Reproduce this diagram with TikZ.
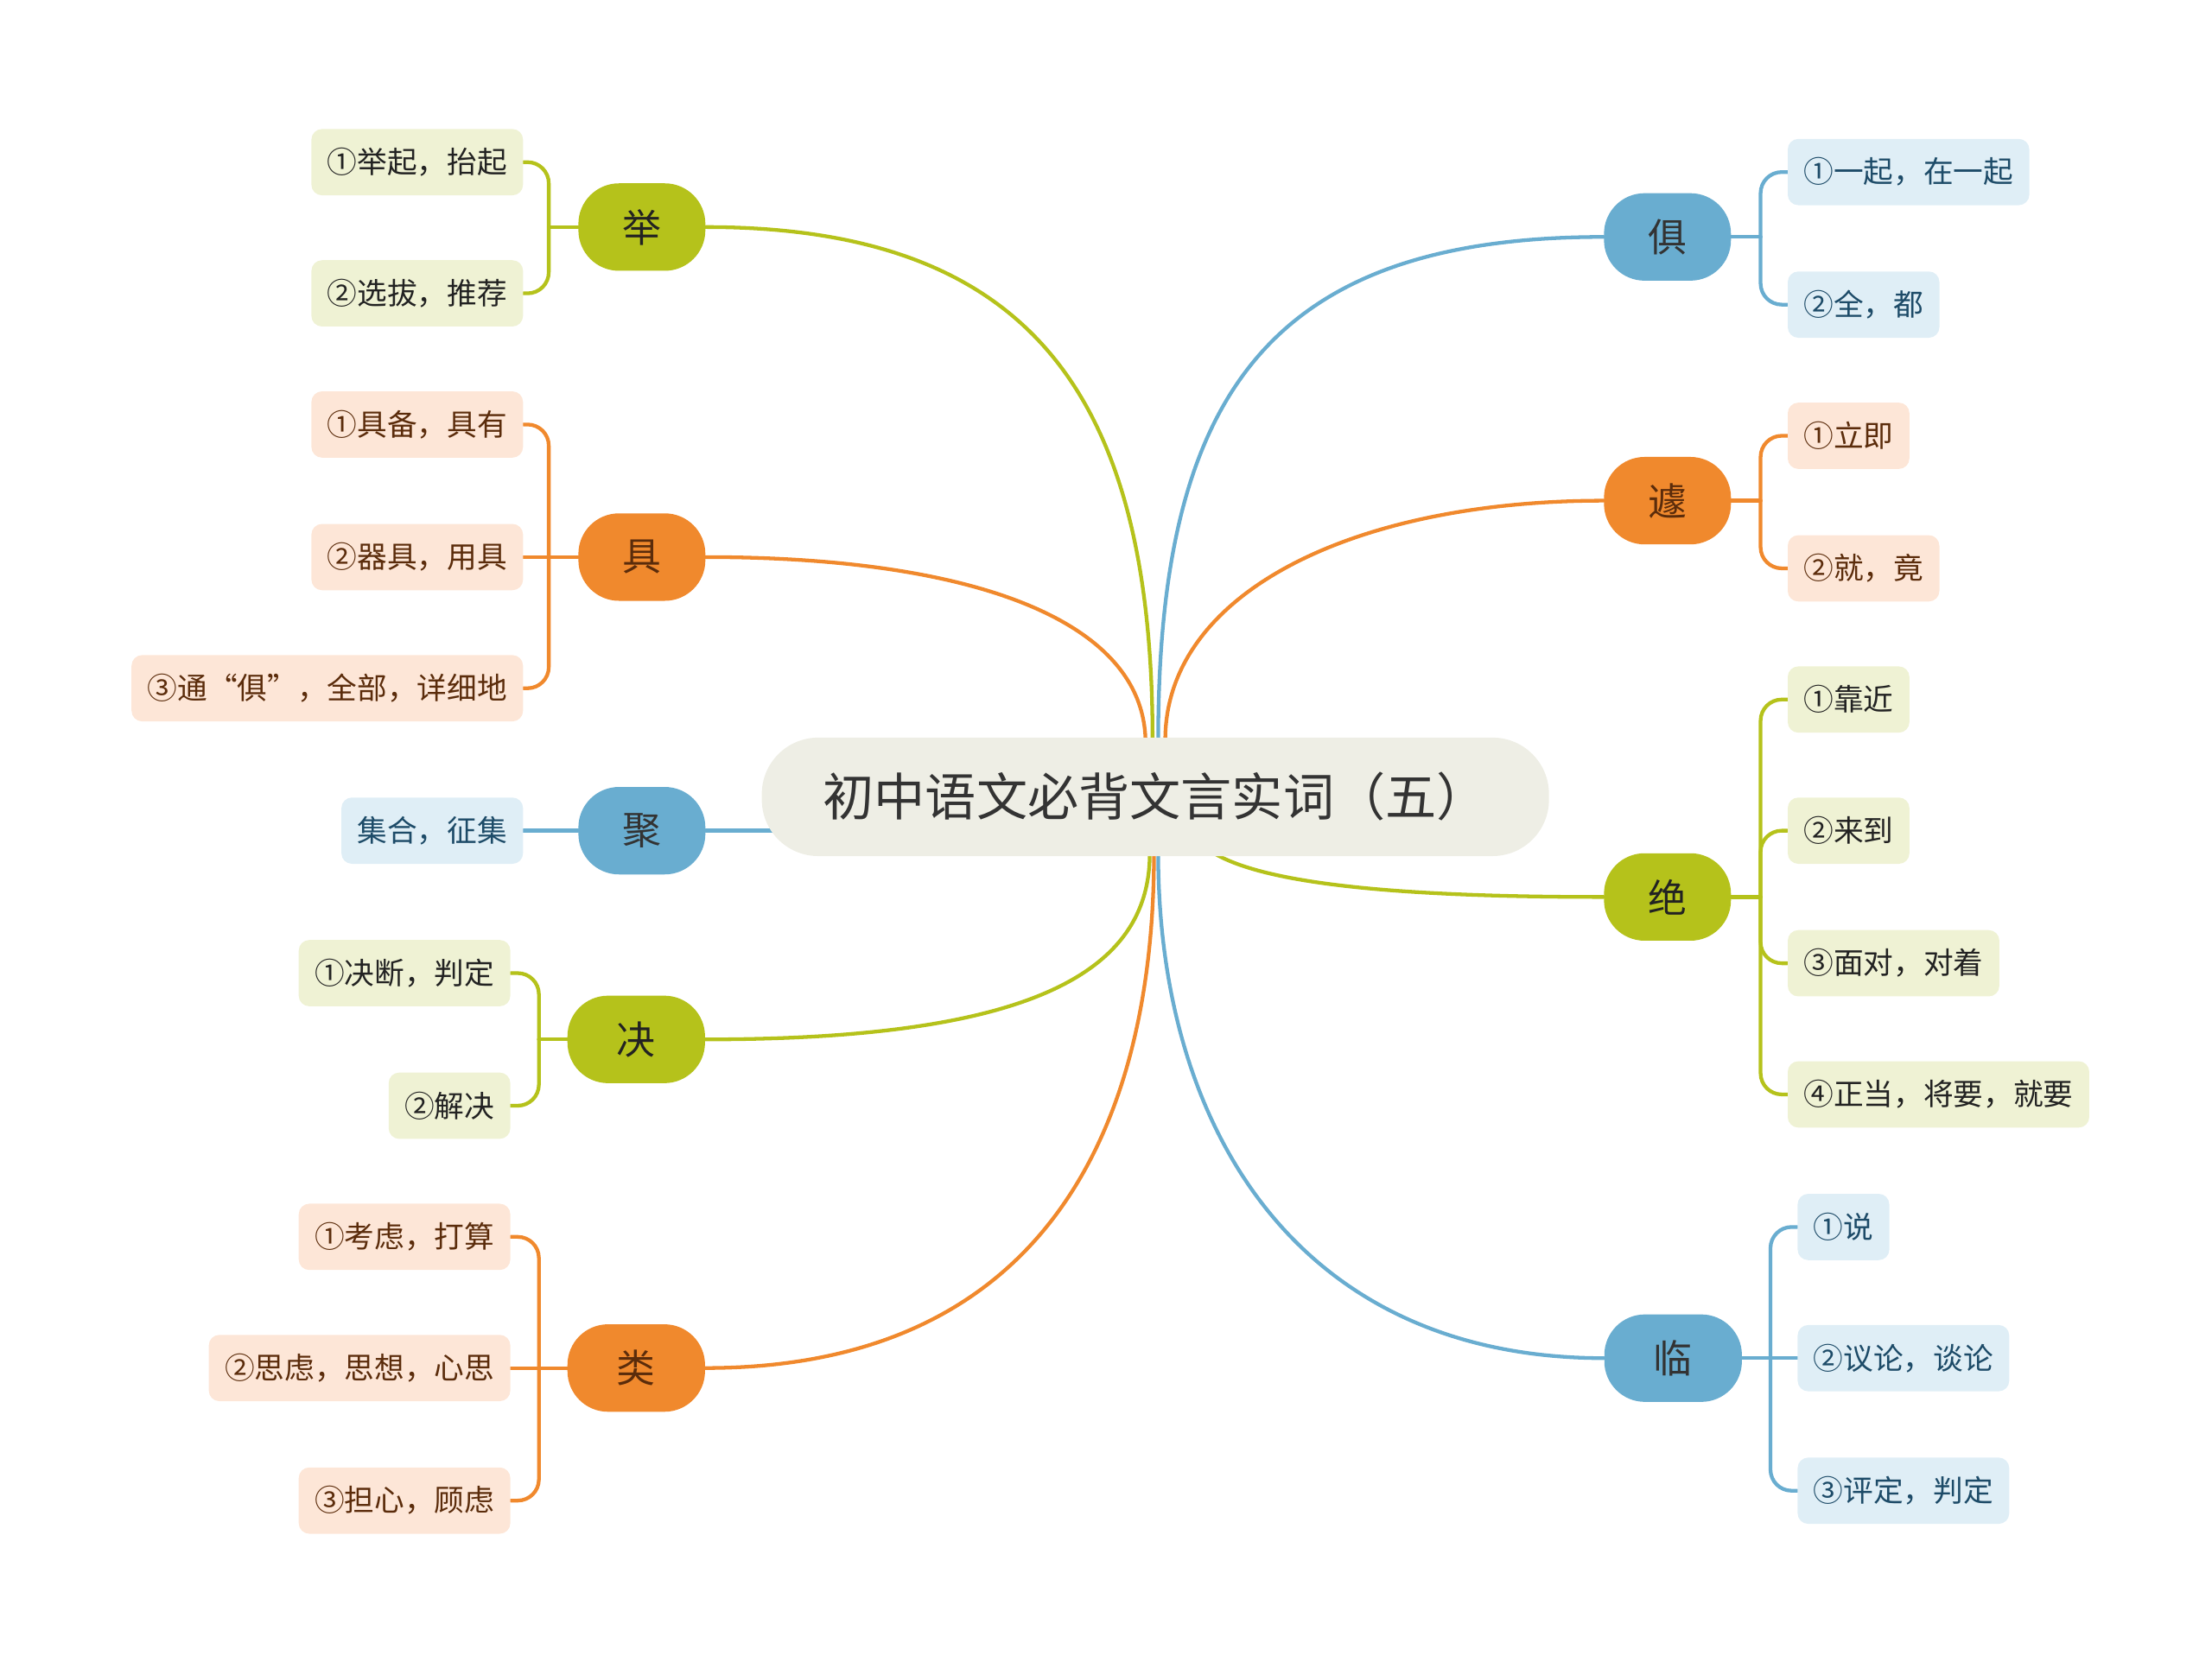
\documentclass[tikz,border=0pt]{standalone}
\usepackage{fontspec}
\setmainfont{Noto Sans CJK SC}
\usetikzlibrary{calc}
\definecolor{gM}{HTML}{B5C21B}
\definecolor{gL}{HTML}{EFF2D4}
\definecolor{gT}{HTML}{222222}
\definecolor{oM}{HTML}{F0892D}
\definecolor{oL}{HTML}{FDE6D7}
\definecolor{oT}{HTML}{5B2C0B}
\definecolor{bM}{HTML}{69ADD0}
\definecolor{bL}{HTML}{DFEEF6}
\definecolor{bT}{HTML}{1D4B68}
\definecolor{rootF}{HTML}{EEEEE5}
\definecolor{rootT}{HTML}{333333}
\pgfdeclarelayer{bg}
\pgfsetlayers{bg,main}
\begin{document}
\begin{tikzpicture}[x=0.8pt,y=-0.8pt,
  mainnode/.style={rounded corners=23pt, minimum height=49.6pt, minimum width=72pt, inner sep=0pt, font=\fontsize{22}{26}\selectfont},
  widenode/.style={mainnode, minimum width=78pt},
  gnode/.style={fill=gM, text=gT},
  onode/.style={fill=oM, text=oT},
  bnode/.style={fill=bM, text=rootT},
  leaf/.style={rounded corners=6pt, minimum height=37.6pt, inner xsep=9pt, inner ysep=0pt, font=\fontsize{17}{20}\selectfont},
  leafL/.style={leaf, anchor=east},
  leafR/.style={leaf, anchor=west},
  gleaf/.style={fill=gL, text=gT},
  oleaf/.style={fill=oL, text=oT},
  bleaf/.style={fill=bL, text=bT},
  link/.style={line width=2.1pt, line cap=round},
  brace/.style={link, rounded corners=12pt}
]
\useasboundingbox (0,0) rectangle (1568,1178);

% root
\node[rounded corners=32pt, minimum width=446.4pt, minimum height=67.2pt, fill=rootF, text=rootT,
      font=\fontsize{29}{34}\selectfont] (root) at (819,565) {初中语文必背文言实词（五）};

% main nodes
\node[mainnode, gnode] (ju) at (455,161) {举};
\node[mainnode, onode] (jb) at (455,395) {具};
\node[mainnode, bnode] (jh) at (455,589) {聚};
\node[widenode, gnode] (jd) at (451,737) {决};
\node[widenode, onode] (lei) at (451,970) {类};
\node[mainnode, bnode] (jq) at (1182,168) {俱};
\node[mainnode, onode] (qu) at (1182,355) {遽};
\node[mainnode, gnode] (jue) at (1182,636) {绝};
\node[widenode, bnode] (lin) at (1186,963) {临};

% leaves left
\node[leafL, gleaf] (ju1) at (371,115) {①举起，抬起};
\node[leafL, gleaf] (ju2) at (371,208) {②选拔，推荐};
\node[leafL, oleaf] (jb1) at (371,301) {①具备，具有};
\node[leafL, oleaf] (jb2) at (371,395) {②器具，用具};
\node[leafL, oleaf] (jb3) at (371,488) {③通“俱”，全部，详细地};
\node[leafL, bleaf] (jh1) at (371,589) {集合，征集};
\node[leafL, gleaf] (jd1) at (362,690) {①决断，判定};
\node[leafL, gleaf] (jd2) at (362,784) {②解决};
\node[leafL, oleaf] (lei1) at (362,877) {①考虑，打算};
\node[leafL, oleaf] (lei2) at (362,970) {②思虑，思想，心思};
\node[leafL, oleaf] (lei3) at (362,1064) {③担心，顾虑};

% leaves right
\node[leafR, bleaf] (jq1) at (1267,122) {①一起，在一起};
\node[leafR, bleaf] (jq2) at (1267,216) {②全，都};
\node[leafR, oleaf] (qu1) at (1267,309) {①立即};
\node[leafR, oleaf] (qu2) at (1267,403) {②就，竟};
\node[leafR, gleaf] (jue1) at (1267,496) {①靠近};
\node[leafR, gleaf] (jue2) at (1267,589) {②来到};
\node[leafR, gleaf] (jue3) at (1267,683) {③面对，对着};
\node[leafR, gleaf] (jue4) at (1267,776) {④正当，将要，就要};
\node[leafR, bleaf] (lin1) at (1274,870) {①说};
\node[leafR, bleaf] (lin2) at (1274,963) {②议论，谈论};
\node[leafR, bleaf] (lin3) at (1274,1057) {③评定，判定};

% spine points
\coordinate (sju) at (389,161);
\coordinate (sjb) at (389,395);
\coordinate (sjd) at (382,737);
\coordinate (slei) at (382,970);
\coordinate (sjq) at (1248,168);
\coordinate (squ) at (1248,355);
\coordinate (sjue) at (1248,636);
\coordinate (slin) at (1255,963);

\begin{pgfonlayer}{bg}
% main curves
\draw[link, gM] (ju.east) .. controls (730,161) and (817,280) .. ($(root.north)+(-2,2)$);
\draw[link, oM] (jb.east) .. controls (690,395) and (810,440) .. ($(root.north)+(-7,2)$);
\draw[link, bM] (jh.east) -- (jh.east -| root.center);
\draw[link, gM] (jd.east) .. controls (730,737) and (815,690) .. ($(root.south)+(-4,-2)$);
\draw[link, oM] (lei.east) .. controls (740,970) and (818,800) .. ($(root.south)+(-1,-2)$);
\draw[link, bM] (jq.west) .. controls (900,168) and (821,280) .. ($(root.north)+(2,2)$);
\draw[link, oM] (qu.west) .. controls (960,355) and (826,420) .. ($(root.north)+(7,2)$);
\draw[link, gM] (jue.west) .. controls (1000,636) and (900,628) .. ($(root.south)+(42,-2)$);
\draw[link, bM] (lin.west) .. controls (920,963) and (821,800) .. ($(root.south)+(2,-2)$);

% braces left
\draw[link, gM] (ju.west) -- (sju);
\draw[brace, gM] (sju) -- (sju |- ju1.east) -- (ju1.east);
\draw[brace, gM] (sju) -- (sju |- ju2.east) -- (ju2.east);
\draw[link, oM] (jb.west) -- (sjb) -- (jb2.east);
\draw[brace, oM] (sjb) -- (sjb |- jb1.east) -- (jb1.east);
\draw[brace, oM] (sjb) -- (sjb |- jb3.east) -- (jb3.east);
\draw[link, bM] (jh.west) -- (jh1.east);
\draw[link, gM] (jd.west) -- (sjd);
\draw[brace, gM] (sjd) -- (sjd |- jd1.east) -- (jd1.east);
\draw[brace, gM] (sjd) -- (sjd |- jd2.east) -- (jd2.east);
\draw[link, oM] (lei.west) -- (slei) -- (lei2.east);
\draw[brace, oM] (slei) -- (slei |- lei1.east) -- (lei1.east);
\draw[brace, oM] (slei) -- (slei |- lei3.east) -- (lei3.east);

% braces right
\draw[link, bM] (jq.east) -- (sjq);
\draw[brace, bM] (sjq) -- (sjq |- jq1.west) -- (jq1.west);
\draw[brace, bM] (sjq) -- (sjq |- jq2.west) -- (jq2.west);
\draw[link, oM] (qu.east) -- (squ);
\draw[brace, oM] (squ) -- (squ |- qu1.west) -- (qu1.west);
\draw[brace, oM] (squ) -- (squ |- qu2.west) -- (qu2.west);
\draw[link, gM] (jue.east) -- (sjue);
\draw[brace, gM] (sjue) -- (sjue |- jue1.west) -- (jue1.west);
\draw[brace, gM] (sjue) -- (sjue |- jue2.west) -- (jue2.west);
\draw[brace, gM] (sjue) -- (sjue |- jue3.west) -- (jue3.west);
\draw[brace, gM] (sjue) -- (sjue |- jue4.west) -- (jue4.west);
\draw[link, bM] (lin.east) -- (slin) -- (lin2.west);
\draw[brace, bM] (slin) -- (slin |- lin1.west) -- (lin1.west);
\draw[brace, bM] (slin) -- (slin |- lin3.west) -- (lin3.west);
\end{pgfonlayer}
\end{tikzpicture}
\end{document}
